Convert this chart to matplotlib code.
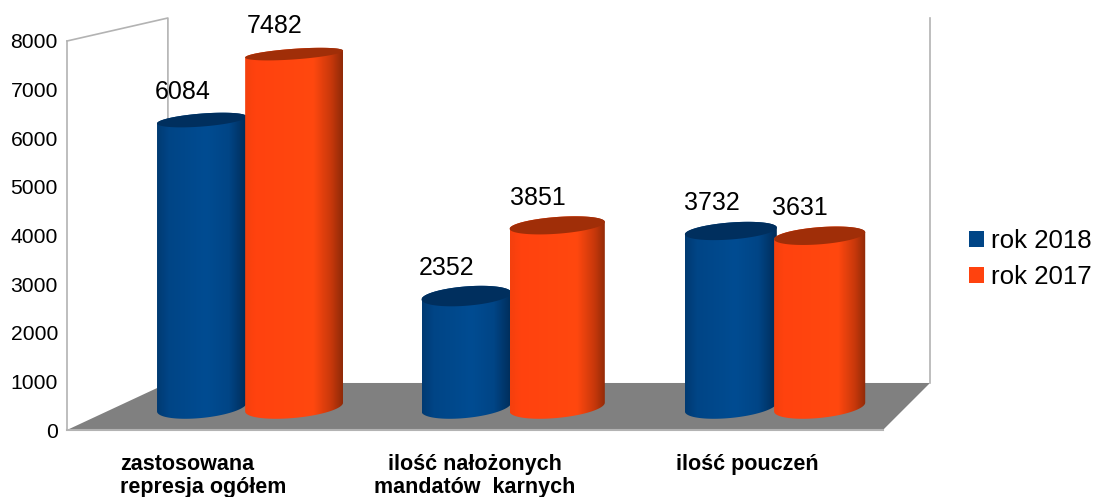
import numpy as np
from matplotlib import pyplot as plt
from matplotlib.colors import LinearSegmentedColormap
from matplotlib.patches import Patch, Polygon

plt.rcParams["font.family"] = ["Liberation Sans", "DejaVu Sans"]

categories = ["zastosowana\nrepresja ogółem", "ilość nałożonych\nmandatów  karnych", "ilość pouczeń"]
rok_2018 = [6084, 2352, 3732]
rok_2017 = [7482, 3851, 3631]
y_ticks = [0, 1000, 2000, 3000, 4000, 5000, 6000, 7000, 8000]

blue_cm = LinearSegmentedColormap.from_list("b", [(0, "#003a72"), (0.13, "#004586"), (0.55, "#004c92"), (0.8, "#004586"), (1, "#002c58")])
orange_cm = LinearSegmentedColormap.from_list("o", [(0, "#f4400e"), (0.1, "#ff420e"), (0.7, "#ff480f"), (0.88, "#c8380b"), (1, "#8f2a08")])
blue_top = "#002f5e"
orange_top = "#a02e08"
line_col = "#b3b3b3"

fig = plt.figure(figsize=(10.95, 4.97), dpi=100)
ax = fig.add_axes([67 / 1095, 67 / 497, 863 / 1095, 412 / 497])
ax.patch.set_alpha(0)
xmin, xmax = -0.5, 2.673
ymin, ymax = 0, 8473
ax.set_xlim(xmin, xmax)
ax.set_ylim(ymin, ymax)

# floor and walls
ax.add_patch(Polygon([(-0.5, 0), (2.5, 0), (2.673, 967), (-0.129, 967)], fc="#808080", ec="none", zorder=1))
ax.plot([-0.5, -0.129, -0.129], [8000, 8473, 967], color=line_col, lw=1.2, zorder=1, clip_on=False)
ax.plot([2.673, 2.673], [967, 8473], color=line_col, lw=1.2, zorder=1, clip_on=False)

# bars sit further back than the axis plane, so they are slightly smaller
depth_step = 0.9724
base_y = 473
val_scale = 0.97


def ellipse(cx, cy, a, b, tilt, t):
    return cx + a * np.cos(t), cy + b * np.sin(t) + tilt * np.cos(t)


def cylinder(cx, value, width, cmap, top_col, z):
    a = width / 2
    top = base_y + value * val_scale
    # ellipses look rounder lower down
    b = 240 - value * 0.0175
    tilt = 70
    xt, yt = ellipse(cx, top, a, b, tilt, np.linspace(0, np.pi, 60))
    xb, yb = ellipse(cx, base_y, a, 225, 90, np.linspace(np.pi, 2 * np.pi, 60))
    body = Polygon(np.column_stack([np.r_[xt, xb], np.r_[yt, yb]]), fc="none", ec="none", zorder=z)
    ax.add_patch(body)
    grad = np.linspace(0, 1, 256).reshape(1, -1)
    im = ax.imshow(grad, cmap=cmap, extent=[cx - a, cx + a, 0, top + 400], aspect="auto", zorder=z, interpolation="bilinear")
    im.set_clip_path(body)
    xe, ye = ellipse(cx, top, a, b, tilt, np.linspace(0, 2 * np.pi, 120))
    ax.add_patch(Polygon(np.column_stack([xe, ye]), fc=top_col, ec="none", zorder=z + 0.5))
    ax.annotate(str(value), (cx, top), xytext=(-14, 20), textcoords="offset points", ha="center", va="center",
                fontsize=18, color="black", zorder=20)


# the orange bars get narrower towards the right of the picture
blue_x0 = -0.004
blue_w = [0.33, 0.33, 0.338]
orange_left = 0.155
orange_w = [0.36, 0.35, 0.335]
z = 3
for i in range(len(categories)):
    cylinder(blue_x0 + i * depth_step, rok_2018[i], blue_w[i], blue_cm, blue_top, z)
    cylinder(orange_left + i * depth_step + orange_w[i] / 2, rok_2017[i], orange_w[i], orange_cm, orange_top, z + 1)
    z += 2

ax.set_xlim(xmin, xmax)
ax.set_ylim(ymin, ymax)

for s in ["top", "right"]:
    ax.spines[s].set_visible(False)
ax.spines["left"].set_bounds(0, 8000)
ax.spines["bottom"].set_bounds(-0.5, 2.5)
ax.spines["left"].set_color(line_col)
ax.spines["bottom"].set_color(line_col)
ax.spines["left"].set_linewidth(1.2)
ax.spines["bottom"].set_linewidth(1.5)

ax.set_yticks(y_ticks)
ax.tick_params(axis="y", length=0, pad=6.5, labelsize=15.2)
ax.set_xticks(range(len(categories)))
ax.set_xticklabels(categories, fontsize=15.5, fontweight="bold", linespacing=1.13)
ax.tick_params(axis="x", length=0, pad=17)
ax.get_xticklabels()[0].set_multialignment("left")

handles = [Patch(fc="#004586", label="rok 2018"), Patch(fc="#ff420e", label="rok 2017")]
ax.legend(handles=handles, loc="center left", bbox_to_anchor=(961 / 1095, (497 - 259) / 497), bbox_transform=fig.transFigure,
          frameon=False, fontsize=18.6, handlelength=0.58, handleheight=0.58, handletextpad=0.3,
          labelspacing=0.48, borderpad=0, borderaxespad=0.3)

fig.savefig("out.png", dpi=100)
